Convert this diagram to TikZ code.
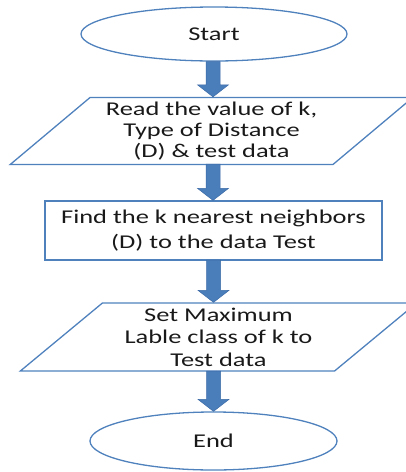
\documentclass[tikz,border=0pt]{standalone}
\usepackage{fontspec}
\setmainfont{Carlito}[FakeStretch=1.355]
\usetikzlibrary{shapes.geometric,calc}
\definecolor{shapeline}{HTML}{4F81BD}
\definecolor{arrfill}{HTML}{4A7EBB}
\definecolor{arrdraw}{HTML}{3B6AA6}
\newcommand{\myflowarrow}[2]{%
  \path[fill=arrfill,draw=arrdraw,line width=0.5pt,line join=miter]
    let \p1=(#1), \p2=(#2) in
    (\x1-7pt,\y1) -- (\x1+7pt,\y1) -- (\x1+7pt,\y2+12pt) --
    (\x1+15.5pt,\y2+12pt) -- (\x1,\y2) -- (\x1-15.5pt,\y2+12pt) --
    (\x1-7pt,\y2+12pt) -- cycle;}
\begin{document}
\begin{tikzpicture}[x=1pt,y=-1pt,
  every node/.style={font=\fontsize{19.5}{21}\selectfont, text=black!90, inner sep=0pt},
  term/.style={ellipse, draw=shapeline, line width=1.3pt},
  io/.style={trapezium, trapezium stretches=true, draw=shapeline, line width=1.3pt, align=center},
  proc/.style={rectangle, draw=shapeline, line width=1.3pt, align=center}]
\useasboundingbox (0,0) rectangle (406,472);
\node[term, minimum width=266pt, minimum height=54pt] (start) at (214,34) {Start};
\node[io, trapezium left angle=40, trapezium right angle=140,
      minimum width=403pt, minimum height=67pt] (read) at (211.5,131)
      {Read the value of k,\\Type of Distance\\(D) \& test data};
\node[proc, minimum width=337pt, minimum height=59pt,
      font=\fontsize{19.5}{25}\selectfont] (find) at (213.5,230.5)
      {Find the k nearest neighbors\\(D) to the data Test};
\node[io, trapezium left angle=41.4, trapezium right angle=138.6,
      minimum width=397pt, minimum height=68pt,
      font=\fontsize{19.5}{22.5}\selectfont] (set) at (218.5,337)
      {Set Maximum\\Lable class of k to\\Test data};
\node[term, minimum width=247pt, minimum height=58pt] (end) at (213.5,441) {End};
\coordinate (a1s) at ($(start.south)+(-1,0)$);
\myflowarrow{a1s}{a1s |- read.north}
\coordinate (a2s) at (213,164);
\myflowarrow{a2s}{a2s |- find.north}
\coordinate (a3s) at (213.5,260);
\myflowarrow{a3s}{a3s |- set.north}
\coordinate (a4s) at (213.5,371);
\myflowarrow{a4s}{a4s |- end.north}
\end{tikzpicture}
\end{document}
